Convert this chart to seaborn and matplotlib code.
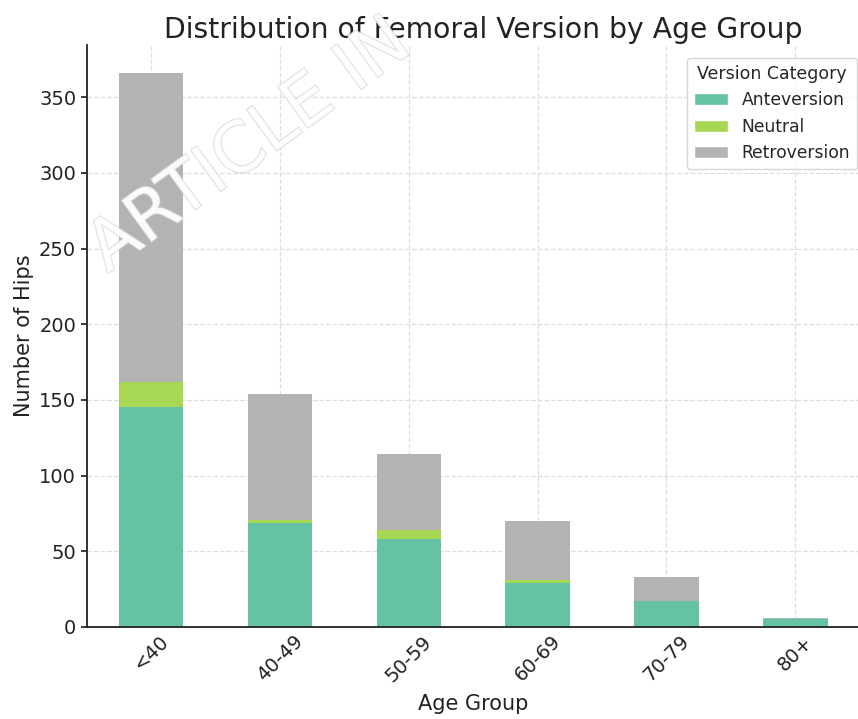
import matplotlib
matplotlib.use("Agg")
import matplotlib.pyplot as plt
import matplotlib.patheffects as pe
from matplotlib.patches import Patch
import seaborn as sns
import pandas as pd

age_groups = ["<40", "40-49", "50-59", "60-69", "70-79", "80+"]
categories = ["Anteversion", "Neutral", "Retroversion"]
anteversion = [145, 69, 58, 29, 17, 5]
neutral = [17, 2, 6, 2, 0, 0]
retroversion = [204, 83, 50, 39, 16, 1]
colors = ["#66c2a5", "#a6d854", "#b3b3b3"]

sns.set_theme(style="whitegrid", rc={
    "grid.linestyle": "--",
    "grid.color": "#dedede",
    "grid.linewidth": 0.9,
    "axes.edgecolor": "#222222",
    "axes.linewidth": 1.3,
    "xtick.bottom": True,
    "ytick.left": True,
})
plt.rcParams["font.family"] = ["DejaVu Sans"]

rows = []
for i, g in enumerate(age_groups):
    for cat, vals in zip(categories, [anteversion, neutral, retroversion]):
        rows.append({"Age Group": g, "Version Category": cat, "count": vals[i]})
df = pd.DataFrame(rows)

fig = plt.figure(figsize=(8.58, 7.19), dpi=100)
ax = fig.add_axes([0.101, 0.128, 0.901, 0.809])

palette = dict(zip(categories, colors))
sns.histplot(data=df, x="Age Group", weights="count", hue="Version Category",
             hue_order=categories[::-1], multiple="stack", discrete=True,
             shrink=0.5, palette=palette, alpha=1, linewidth=0, ax=ax,
             legend=False)

totals = [a + n + r for a, n, r in zip(anteversion, neutral, retroversion)]
ax.set_ylim(0, max(totals) * 1.05)
ax.set_xlim(-0.5, len(age_groups) - 0.5)
ax.set_yticks(range(0, 351, 50))
ax.tick_params(axis="y", labelsize=14, colors="#222222", length=4)
ax.tick_params(axis="x", labelsize=14, colors="#222222", length=4, direction="in")
ax.set_xticks(range(len(age_groups)))
ax.set_xticklabels(age_groups, rotation=45)
ax.set_xlabel("Age Group", fontsize=15, color="#222222", labelpad=6)
ax.set_ylabel("Number of Hips", fontsize=15, color="#222222")
ax.set_title("Distribution of Femoral Version by Age Group", fontsize=20.3,
             color="#222222", pad=5, x=0.513)
sns.despine(ax=ax, top=True, right=True)

handles = [Patch(facecolor=c, label=l) for c, l in zip(colors, categories)]
leg = ax.legend(handles=handles, title="Version Category", loc="upper right",
                bbox_to_anchor=(857 / 858, 1 - 58 / 719),
                bbox_transform=fig.transFigure, borderaxespad=0,
                fontsize=12.3, title_fontsize=12.5, frameon=True)
leg.get_frame().set_edgecolor("#cccccc")

fig.text(0.135, 0.604, "ARTICLE IN", rotation=36, fontsize=50,
         color="#ffffff", alpha=0.8, ha="left", va="bottom",
         rotation_mode="anchor", zorder=10,
         path_effects=[pe.withStroke(linewidth=1.3, foreground="#d6d6d6")])

fig.savefig("out.png", dpi=100)
